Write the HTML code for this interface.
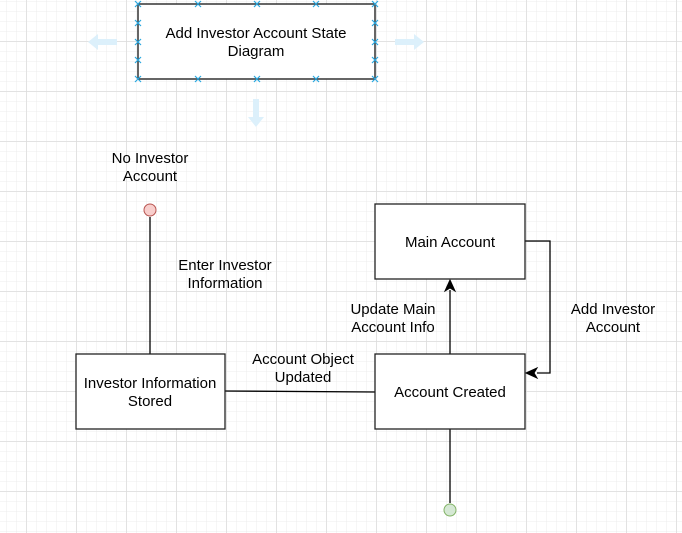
<!DOCTYPE html>
<html><head><style>
html,body{margin:0;padding:0;background:#fff;}
svg{display:block;font-family:"Liberation Sans",Arial,sans-serif;}
</style></head><body>
<svg width="682" height="533" xmlns="http://www.w3.org/2000/svg">
<defs>
<pattern id="minor" width="10" height="10" patternUnits="userSpaceOnUse" x="6" y="1">
<path d="M0 0H10M0 0V10" stroke="#ececec" stroke-width="1" fill="none"/>
</pattern>
<pattern id="major" width="50" height="50" patternUnits="userSpaceOnUse" x="26.5" y="41.5">
<path d="M0 0H50M0 0V50" stroke="#d8d8d8" stroke-width="1" fill="none"/>
</pattern>
</defs>
<rect width="682" height="533" fill="url(#minor)"/>
<rect width="682" height="533" fill="url(#major)"/>

<!-- top box -->
<rect x="138" y="4" width="237" height="75" fill="#fff" stroke="#333" stroke-width="1.5"/>
<text x="256" y="38" font-size="15" text-anchor="middle" fill="#000">Add Investor Account State</text>
<text x="256" y="56" font-size="15" text-anchor="middle" fill="#000">Diagram</text>
<g stroke="#29a8e0" stroke-width="1.2">
<path d="M135 1l6 6M141 1l-6 6M195 1l6 6M201 1l-6 6M254 1l6 6M260 1l-6 6M313 1l6 6M319 1l-6 6M372 1l6 6M378 1l-6 6"/>
<path d="M135 76l6 6M141 76l-6 6M195 76l6 6M201 76l-6 6M254 76l6 6M260 76l-6 6M313 76l6 6M319 76l-6 6M372 76l6 6M378 76l-6 6"/>
<path d="M135 20l6 6M141 20l-6 6M135 39l6 6M141 39l-6 6M135 57l6 6M141 57l-6 6"/>
<path d="M372 20l6 6M378 20l-6 6M372 39l6 6M378 39l-6 6M372 57l6 6M378 57l-6 6"/>
</g>
<g fill="#dcf0fb">
<path d="M88 42l10-8v5h19v6H98v5z"/>
<path d="M424 42l-10-8v5H395v6h19v5z"/>
<path d="M256 127l-8-10h5V99h6v18h5z"/>
</g>

<!-- labels -->
<g font-size="15" fill="#000" text-anchor="middle">
<text x="150" y="163">No Investor</text>
<text x="150" y="181">Account</text>
<text x="225" y="270">Enter Investor</text>
<text x="225" y="288">Information</text>
<text x="393" y="314">Update Main</text>
<text x="393" y="332">Account Info</text>
<text x="303" y="364">Account Object</text>
<text x="303" y="382">Updated</text>
<text x="613" y="314">Add Investor</text>
<text x="613" y="332">Account</text>
</g>

<!-- connectors -->
<g stroke="#000" stroke-width="1.3" fill="none">
<path d="M150 217V354"/>
<path d="M225 391L375 392"/>
<path d="M450 354V290"/>
<path d="M525 241H550V373H537"/>
<path d="M450 429V503"/>
</g>
<path d="M450 280l-5 11 5-3 5 3z" fill="#000" stroke="#000"/>
<path d="M526 373l11-5-3 5 3 5z" fill="#000" stroke="#000"/>

<!-- boxes -->
<g fill="#fff" stroke="#222" stroke-width="1.3">
<rect x="375" y="204" width="150" height="75"/>
<rect x="375" y="354" width="150" height="75"/>
<rect x="76" y="354" width="149" height="75"/>
</g>
<g font-size="15" fill="#000" text-anchor="middle">
<text x="450" y="247">Main Account</text>
<text x="450" y="397">Account Created</text>
<text x="150" y="388">Investor Information</text>
<text x="150" y="406">Stored</text>
</g>

<circle cx="150" cy="210" r="6" fill="#f8cecc" stroke="#b85450" stroke-width="1"/>
<circle cx="450" cy="510" r="6" fill="#d5e8d4" stroke="#82b366" stroke-width="1"/>
</svg>
</body></html>
